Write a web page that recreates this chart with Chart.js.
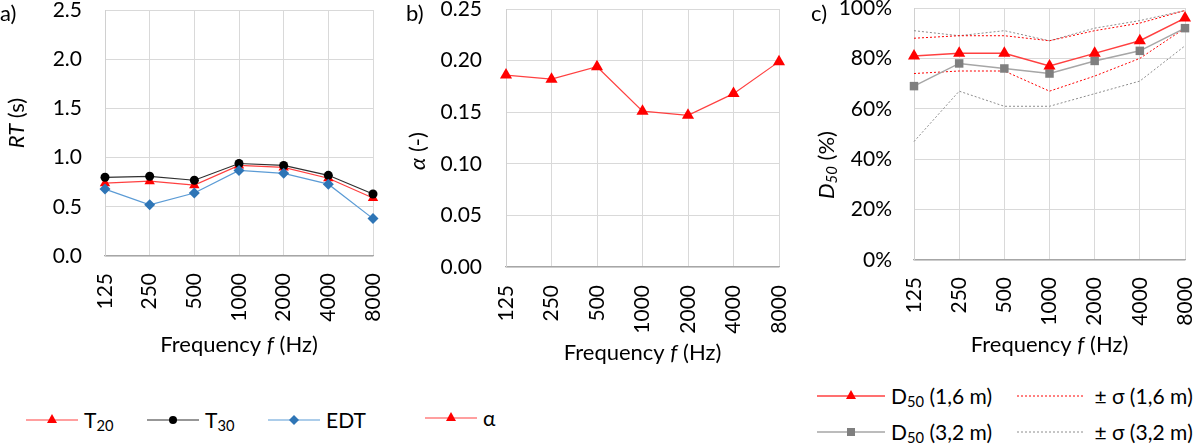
<!DOCTYPE html>
<html>
<head>
<meta charset="utf-8">
<script src="https://cdn.jsdelivr.net/npm/chart.js@4.4.1/dist/chart.umd.min.js"></script>
<style>
  body { margin: 0; background: #fff; width: 1200px; height: 444px; overflow: hidden; position: relative; font-family: Lato, sans-serif; color: #000; }
  canvas { position: absolute; top: 0; }
  .tag { position: absolute; top: 2px; font-size: 22px; line-height: 1; }
  .leg { position: absolute; display: flex; align-items: center; font-size: 21px; white-space: nowrap; height: 24px; }
  .leg svg { margin-right: 6px; flex: none; }
  .leg span { display: inline-block; line-height: 24px; }
  .leg sub { font-size: 0.7em; vertical-align: -0.2em; line-height: 0; }
</style>
</head>
<body>
<canvas id="chartA" width="400" height="370" style="left:0"></canvas>
<canvas id="chartB" width="400" height="370" style="left:400px"></canvas>
<canvas id="chartC" width="400" height="370" style="left:800px"></canvas>

<div class="tag" style="left:0">a)</div>
<div class="tag" style="left:406px">b)</div>
<div class="tag" style="left:811px">c)</div>

<!-- legende a) + b) -->
<div class="leg" style="left:26px;top:408px">
  <svg width="52" height="20"><line x1="0" y1="10" x2="52" y2="10" stroke="#ff4040" stroke-width="1.2"/><polygon points="26,4 31,13 21,13" fill="#ff0000"/></svg><span>T<sub>20</sub></span>
</div>
<div class="leg" style="left:147px;top:408px">
  <svg width="52" height="20"><line x1="0" y1="10" x2="52" y2="10" stroke="#303030" stroke-width="1.2"/><circle cx="26" cy="10" r="4" fill="#000"/></svg><span>T<sub>30</sub></span>
</div>
<div class="leg" style="left:268px;top:408px">
  <svg width="52" height="20"><line x1="0" y1="10" x2="52" y2="10" stroke="#5b9bd5" stroke-width="1.2"/><polygon points="26,5 31,10 26,15 21,10" fill="#2e75b6"/></svg><span>EDT</span>
</div>
<div class="leg" style="left:425px;top:406px">
  <svg width="52" height="20"><line x1="0" y1="10" x2="52" y2="10" stroke="#ff4040" stroke-width="1.2"/><polygon points="26,4 31,13 21,13" fill="#ff0000"/></svg><span>α</span>
</div>

<!-- legende c) -->
<div class="leg" style="left:817px;top:384px">
  <svg width="68" height="20"><line x1="0" y1="10" x2="68" y2="10" stroke="#ff4040" stroke-width="1.5"/><polygon points="34,4 39,13 29,13" fill="#ff0000"/></svg><span>D<sub>50</sub> (1,6 m)</span>
</div>
<div class="leg" style="left:1017px;top:384px">
  <svg width="66" height="20"><line x1="0" y1="10" x2="66" y2="10" stroke="#ff0000" stroke-width="1" stroke-dasharray="2,2"/></svg><span>&nbsp;± σ (1,6 m)</span>
</div>
<div class="leg" style="left:817px;top:420px">
  <svg width="68" height="20"><line x1="0" y1="10" x2="68" y2="10" stroke="#a6a6a6" stroke-width="1.5"/><rect x="30" y="6" width="8" height="8" fill="#7f7f7f"/></svg><span>D<sub>50</sub> (3,2 m)</span>
</div>
<div class="leg" style="left:1017px;top:420px">
  <svg width="66" height="20"><line x1="0" y1="10" x2="66" y2="10" stroke="#8c8c8c" stroke-width="1" stroke-dasharray="2,2"/></svg><span>&nbsp;± σ (3,2 m)</span>
</div>

<script>
// gemeinsame Frequenzbänder (Hz)
const freqLabels = ['125', '250', '500', '1000', '2000', '4000', '8000'];

// a) Nachhallzeiten in s
const t20 = [0.74, 0.76, 0.72, 0.92, 0.90, 0.79, 0.59];
const t30 = [0.80, 0.81, 0.77, 0.94, 0.92, 0.82, 0.63];
const edt = [0.68, 0.52, 0.64, 0.87, 0.84, 0.73, 0.38];

// b) Absorptionsgrad
const alpha = [0.186, 0.182, 0.194, 0.151, 0.147, 0.168, 0.199];

// c) Deutlichkeit D50 in %
const d50Near = [81, 82, 82, 77, 82, 87, 96];
const d50Far = [69, 78, 76, 74, 79, 83, 92];
const sdNearHi = [88, 89, 89, 87, 91, 94, 99];
const sdNearLo = [74, 75, 75, 67, 73, 80, 92];
const sdFarHi = [91, 89, 91, 87, 92, 95, 99];
const sdFarLo = [47, 67, 61, 61, 66, 71, 85];

const FONT = 'Lato';

function fontFor(p) {
  return (p.i ? 'italic ' : '') + (p.sub ? 15 : 22) + 'px ' + FONT;
}

// Achsentitel mit kursiven Teilen / Index selbst zeichnen
function drawRich(ctx, parts, cx, cy, rot) {
  let total = 0;
  parts.forEach(p => { ctx.font = fontFor(p); p.w = ctx.measureText(p.t).width; total += p.w; });
  ctx.save();
  ctx.translate(cx, cy);
  ctx.rotate(rot);
  ctx.textBaseline = 'middle';
  ctx.textAlign = 'left';
  let x = -total / 2;
  parts.forEach(p => {
    ctx.font = fontFor(p);
    ctx.fillText(p.t, x, p.sub ? 5 : 0);
    x += p.w;
  });
  ctx.restore();
}

const richTitles = {
  id: 'richTitles',
  afterDraw(chart, args, opts) {
    const ctx = chart.ctx;
    const area = chart.chartArea;
    ctx.save();
    ctx.fillStyle = '#000';
    if (opts.x) drawRich(ctx, opts.x.parts, (area.left + area.right) / 2, opts.x.y, 0);
    if (opts.y) drawRich(ctx, opts.y.parts, opts.y.x, opts.y.y, -Math.PI / 2);
    ctx.restore();
  }
};

const freqTitle = [{ t: 'Frequency ' }, { t: 'f', i: true }, { t: ' (Hz)' }];

function makeOptions(cfg) {
  return {
    responsive: false,
    animation: false,
    events: [],
    layout: { padding: cfg.pad },
    plugins: {
      legend: { display: false },
      tooltip: { enabled: false },
      richTitles: cfg.titles
    },
    scales: {
      x: {
        type: 'category',
        offset: false,
        grid: { color: '#d9d9d9', drawTicks: false, offset: false },
        border: { color: '#a6a6a6', width: 1.2 },
        ticks: {
          minRotation: 90, maxRotation: 90, autoSkip: false,
          padding: cfg.xPad, color: '#000', font: { family: FONT, size: 21 }
        },
        afterFit: s => { s.height = cfg.xH; s.paddingLeft = 0; s.paddingRight = 0; }
      },
      y: {
        min: 0, max: cfg.max,
        grid: { color: '#d9d9d9', drawTicks: false },
        border: { color: '#d0d0d0' },
        ticks: {
          stepSize: cfg.step, padding: cfg.yPad, color: '#000',
          font: { family: FONT, size: 21 }, callback: cfg.fmt
        },
        afterFit: s => { s.width = cfg.yW; s.paddingTop = 0; s.paddingBottom = 0; }
      }
    }
  };
}

function lineSet(data, color, width, extra) {
  return Object.assign({
    data: data, borderColor: color, borderWidth: width, tension: 0,
    fill: false, clip: false, pointBorderWidth: 0
  }, extra);
}

// a) RT
new Chart(document.getElementById('chartA'), {
  type: 'line',
  data: {
    labels: freqLabels,
    datasets: [
      lineSet(edt, '#5b9bd5', 1.2, { order: 1, pointStyle: 'rectRot', pointRadius: 5.5, pointBackgroundColor: '#2e75b6' }),
      lineSet(t30, '#303030', 1.2, { order: 2, pointStyle: 'circle', pointRadius: 4.5, pointBackgroundColor: '#000' }),
      lineSet(t20, '#ff4040', 1.2, { order: 3, pointStyle: 'triangle', pointRadius: 6, pointBackgroundColor: '#ff0000' })
    ]
  },
  options: makeOptions({
    pad: { top: 10, right: 27, left: 0, bottom: 0 },
    yW: 105, xH: 114, xPad: 17, yPad: 23,
    max: 2.5, step: 0.5, fmt: v => v.toFixed(1),
    titles: {
      x: { parts: freqTitle, y: 345 },
      y: { parts: [{ t: 'RT', i: true }, { t: ' (s)' }], x: 17, y: 123 }
    }
  }),
  plugins: [richTitles]
});

// b) alpha
new Chart(document.getElementById('chartB'), {
  type: 'line',
  data: {
    labels: freqLabels,
    datasets: [
      lineSet(alpha, '#ff4040', 1.2, { pointStyle: 'triangle', pointRadius: 7, pointBackgroundColor: '#ff0000' })
    ]
  },
  options: makeOptions({
    pad: { top: 9, right: 21, left: 0, bottom: 0 },
    yW: 106, xH: 103, xPad: 18, yPad: 24,
    max: 0.25, step: 0.05, fmt: v => v.toFixed(2),
    titles: {
      x: { parts: freqTitle, y: 353 },
      y: { parts: [{ t: 'α', i: true }, { t: ' (-)' }], x: 18, y: 151 }
    }
  }),
  plugins: [richTitles]
});

// c) D50
new Chart(document.getElementById('chartC'), {
  type: 'line',
  data: {
    labels: freqLabels,
    datasets: [
      lineSet(d50Near, '#ff4040', 1.5, { order: 1, pointStyle: 'triangle', pointRadius: 7, pointBackgroundColor: '#ff0000' }),
      lineSet(d50Far, '#a6a6a6', 1.5, { order: 2, pointStyle: 'rect', pointRadius: 6, pointBackgroundColor: '#7f7f7f' }),
      lineSet(sdNearHi, '#ff0000', 1, { order: 3, pointRadius: 0, borderDash: [2, 2] }),
      lineSet(sdNearLo, '#ff0000', 1, { order: 3, pointRadius: 0, borderDash: [2, 2] }),
      lineSet(sdFarHi, '#8c8c8c', 1, { order: 4, pointRadius: 0, borderDash: [2, 2] }),
      lineSet(sdFarLo, '#8c8c8c', 1, { order: 4, pointRadius: 0, borderDash: [2, 2] })
    ]
  },
  options: makeOptions({
    pad: { top: 8, right: 15, left: 0, bottom: 0 },
    yW: 114, xH: 110, xPad: 17, yPad: 22,
    max: 100, step: 20, fmt: v => v + '%',
    titles: {
      x: { parts: freqTitle, y: 345 },
      y: { parts: [{ t: 'D', i: true }, { t: '50', i: true, sub: true }, { t: ' (%)' }], x: 27, y: 165 }
    }
  }),
  plugins: [richTitles]
});
</script>
</body>
</html>
